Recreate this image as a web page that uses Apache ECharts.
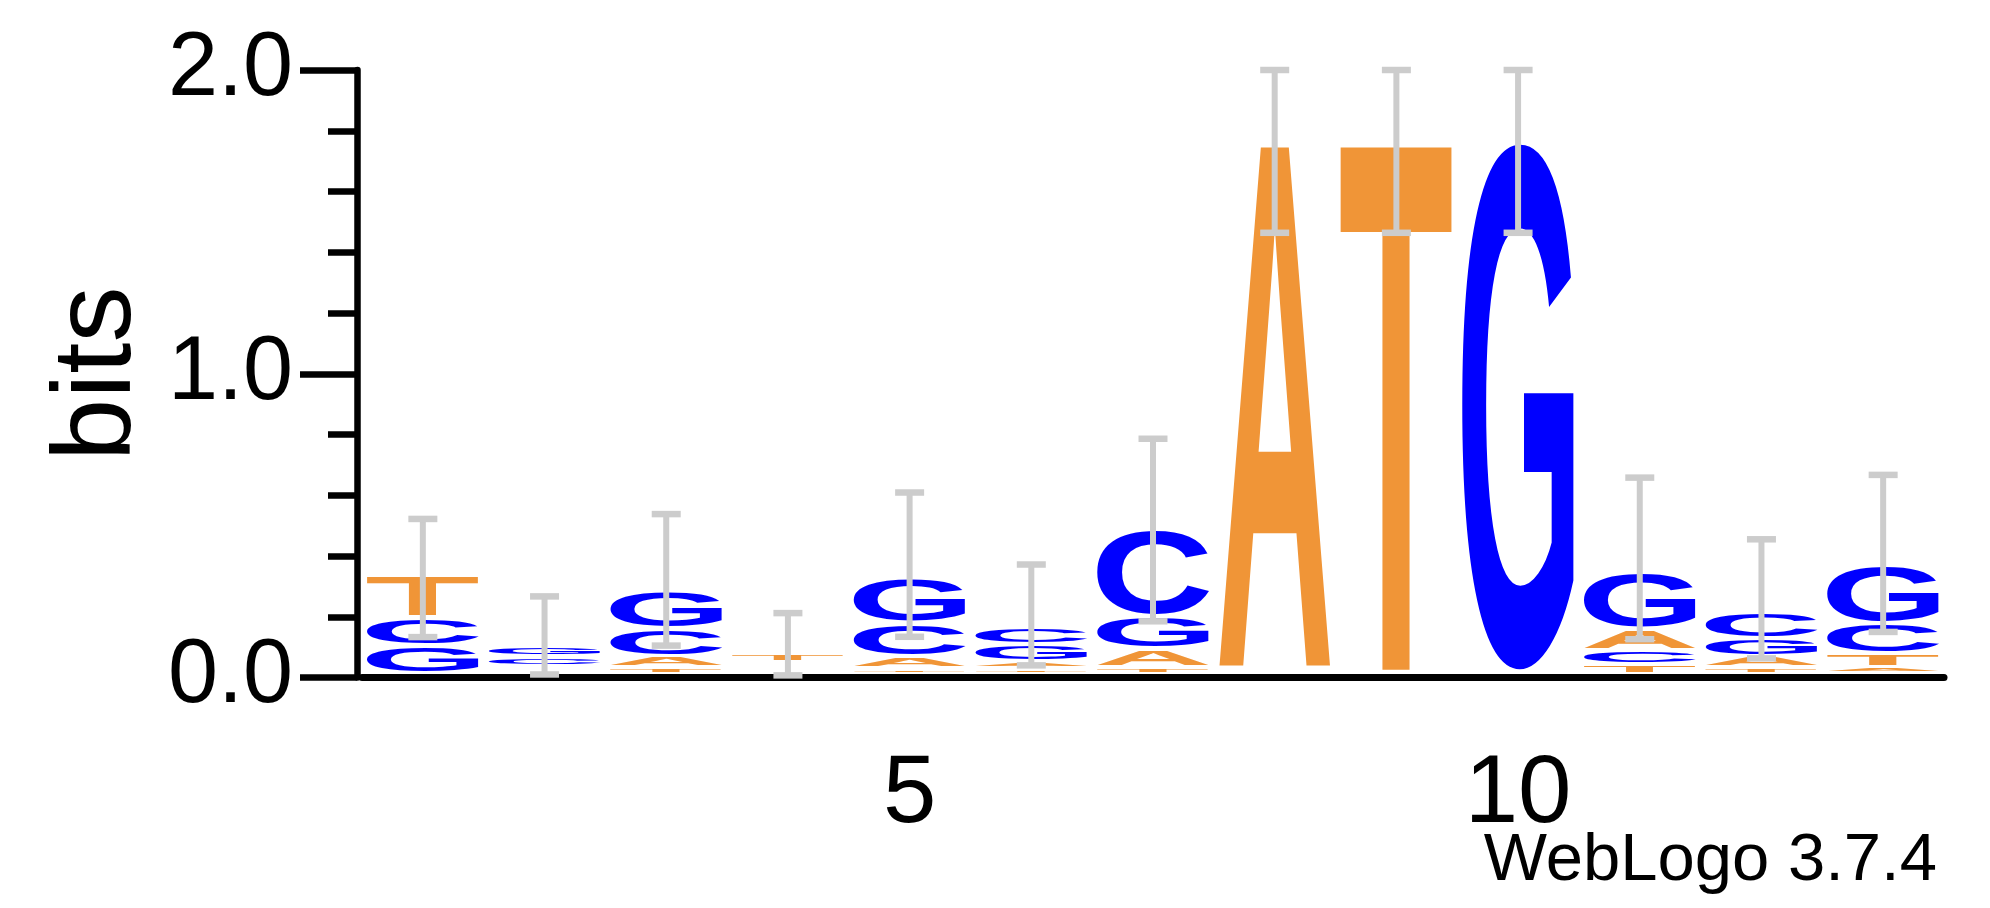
<!DOCTYPE html>
<html>
<head>
<meta charset="utf-8">
<title>WebLogo</title>
<script src="https://cdn.jsdelivr.net/npm/echarts@6/dist/echarts.min.js"></script>
<style>
  html, body { margin: 0; padding: 0; background: #fff; }
  #chart { width: 1990px; height: 908px; }
</style>
</head>
<body>
<div id="chart"></div>
<script>
// sequence positions and information content (bits) of each base
const positions = ['1', '2', '3', '4', '5', '6', '7', '8', '9', '10', '11', '12', '13']
const bitsA = [0.002, 0.013, 0.038, 0.0132, 0.0385, 0.022, 0.061, 1.736, 0.002, 0.002, 0.069, 0.037, 0.020]
const bitsC = [0.092, 0.030, 0.091, 0.013, 0.110, 0.058, 0.285, 0.002, 0.002, 0.002, 0.046, 0.088, 0.099]
const bitsG = [0.091, 0.033, 0.126, 0.0131, 0.148, 0.057, 0.107, 0.002, 0.002, 1.745, 0.187, 0.059, 0.189]
const bitsT = [0.140, 0.0131, 0.020, 0.028, 0.018, 0.018, 0.020, 0.003, 1.750, 0.003, 0.032, 0.020, 0.047]

// error bars (bits)
const errLow = [0.133, 0.010, 0.105, 0.007, 0.134, 0.040, 0.185, 1.464, 1.464, 1.464, 0.126, 0.063, 0.150]
const errHigh = [0.522, 0.267, 0.538, 0.212, 0.609, 0.372, 0.786, 2.0, 2.0, 2.0, 0.658, 0.455, 0.667]

const majorX = ['5', '10']

const letters = ['A', 'C', 'G', 'T']
const letterBits = [bitsA, bitsC, bitsG, bitsT]
const letterColors = { A: '#f09537', C: '#0000ff', G: '#0000ff', T: '#f09537' }

const LETTER_FONT = 'bold 200px "Liberation Sans"'
const LETTER_WIDTH = 0.92   // fraction of a column
const MARGIN = 2            // px blank above and below each glyph
const BASE_LIFT = 4         // stacks sit slightly above the axis line

// ink box of each glyph, so a glyph can be stretched to fill its slot
const inkBox = {}
;(function () {
  const ctx = document.createElement('canvas').getContext('2d')
  ctx.font = LETTER_FONT
  ctx.textAlign = 'left'
  ctx.textBaseline = 'middle'
  letters.forEach(ch => {
    const m = ctx.measureText(ch)
    inkBox[ch] = {
      l: m.actualBoundingBoxLeft,
      r: m.actualBoundingBoxRight,
      a: m.actualBoundingBoxAscent,
      d: m.actualBoundingBoxDescent
    }
  })
})()

// stack letters: smallest at the bottom
const letterBoxes = []
positions.forEach((p, i) => {
  const col = letters.map((ch, k) => ({ k, h: letterBits[k][i] }))
  col.sort((a, b) => a.h - b.h)
  let base = 0
  col.forEach(c => {
    letterBoxes.push([i, base, base + c.h, c.k])
    base += c.h
  })
})

const errData = positions.map((p, i) => [i, errLow[i], errHigh[i]])

function renderLetter(params, api) {
  const xi = api.value(0)
  const ch = letters[api.value(3)]
  const pb = api.coord([xi, api.value(1)])
  const pt = api.coord([xi, api.value(2)])
  const band = api.size([1, 0])[0]
  const w = band * LETTER_WIDTH
  const x0 = pb[0] - w / 2
  const top = pt[1] - BASE_LIFT + MARGIN
  const bottom = pb[1] - BASE_LIFT - MARGIN
  const h = bottom - top
  if (h < 1) return null
  const ink = inkBox[ch]
  const sx = w / (ink.l + ink.r)
  const sy = h / (ink.a + ink.d)
  return {
    type: 'text',
    x: x0 + sx * ink.l,
    y: top + sy * ink.a,
    scaleX: sx,
    scaleY: sy,
    silent: true,
    style: {
      text: ch,
      x: 0,
      y: 0,
      font: LETTER_FONT,
      fill: letterColors[ch],
      align: 'left',
      verticalAlign: 'middle',
      textAlign: 'left',
      textVerticalAlign: 'middle'
    }
  }
}

function renderErr(params, api) {
  const xi = api.value(0)
  const lo = api.coord([xi, api.value(1)])
  const hi = api.coord([xi, api.value(2)])
  const style = { fill: '#cccccc' }
  const lw = 6, capW = 29, capH = 6.5
  return {
    type: 'group',
    silent: true,
    children: [
      { type: 'rect', shape: { x: lo[0] - lw / 2, y: hi[1], width: lw, height: lo[1] - hi[1] }, style },
      { type: 'rect', shape: { x: lo[0] - capW / 2, y: hi[1] - capH / 2, width: capW, height: capH }, style },
      { type: 'rect', shape: { x: lo[0] - capW / 2, y: lo[1] - capH / 2, width: capW, height: capH }, style }
    ]
  }
}

const chart = echarts.init(document.getElementById('chart'))

const gridBox = { left: 362, top: 70, width: 1582, height: 607.5 }
const isMajor = (idx, val) => majorX.indexOf(val) >= 0

chart.setOption({
  animation: false,
  backgroundColor: '#ffffff',
  grid: [gridBox, gridBox],
  xAxis: [
    {
      type: 'category',
      gridIndex: 0,
      data: positions,
      boundaryGap: true,
      axisLine: { lineStyle: { color: '#000', width: 7 } },
      axisTick: { alignWithLabel: true, interval: 0, length: 15, lineStyle: { color: '#000', width: 6.5 } },
      axisLabel: { show: false },
      splitLine: { show: false }
    },
    {
      type: 'category',
      gridIndex: 1,
      data: positions,
      boundaryGap: true,
      axisLine: { show: false },
      axisTick: { alignWithLabel: true, interval: isMajor, length: 30, lineStyle: { color: '#000', width: 6.5 } },
      axisLabel: {
        interval: isMajor,
        margin: 70,
        color: '#000',
        fontSize: 96,
        fontFamily: 'Liberation Sans'
      },
      splitLine: { show: false }
    }
  ],
  yAxis: [
    {
      type: 'value',
      gridIndex: 0,
      min: 0,
      max: 2,
      interval: 1,
      offset: 5,
      name: 'bits',
      nameLocation: 'middle',
      nameRotate: 90,
      nameGap: 202,
      nameTextStyle: { color: '#000', fontSize: 112, fontFamily: 'Liberation Sans' },
      axisLine: { show: true, lineStyle: { color: '#000', width: 6.5 } },
      axisTick: { show: true, length: 57, lineStyle: { color: '#000', width: 6.5 } },
      minorTick: { show: true, splitNumber: 5, length: 29, lineStyle: { color: '#000', width: 6.5 } },
      axisLabel: {
        margin: 64,
        color: '#000',
        fontSize: 90,
        fontFamily: 'Liberation Sans',
        formatter: v => v.toFixed(1)
      },
      splitLine: { show: false },
      minorSplitLine: { show: false }
    },
    {
      type: 'value',
      gridIndex: 1,
      min: 0,
      max: 2,
      show: false
    }
  ],
  graphic: [
    {
      type: 'text',
      x: 1937,
      y: 862,
      style: {
        text: 'WebLogo 3.7.4',
        font: '67px "Liberation Sans"',
        fill: '#000',
        textAlign: 'right',
        textVerticalAlign: 'middle'
      }
    }
  ],
  series: [
    {
      type: 'custom',
      name: 'letters',
      xAxisIndex: 0,
      yAxisIndex: 0,
      clip: false,
      z: 2,
      encode: { x: 0, y: [1, 2] },
      data: letterBoxes,
      renderItem: renderLetter
    },
    {
      type: 'custom',
      name: 'error',
      xAxisIndex: 0,
      yAxisIndex: 0,
      clip: false,
      z: 3,
      encode: { x: 0, y: [1, 2] },
      data: errData,
      renderItem: renderErr
    }
  ]
})
</script>
</body>
</html>
